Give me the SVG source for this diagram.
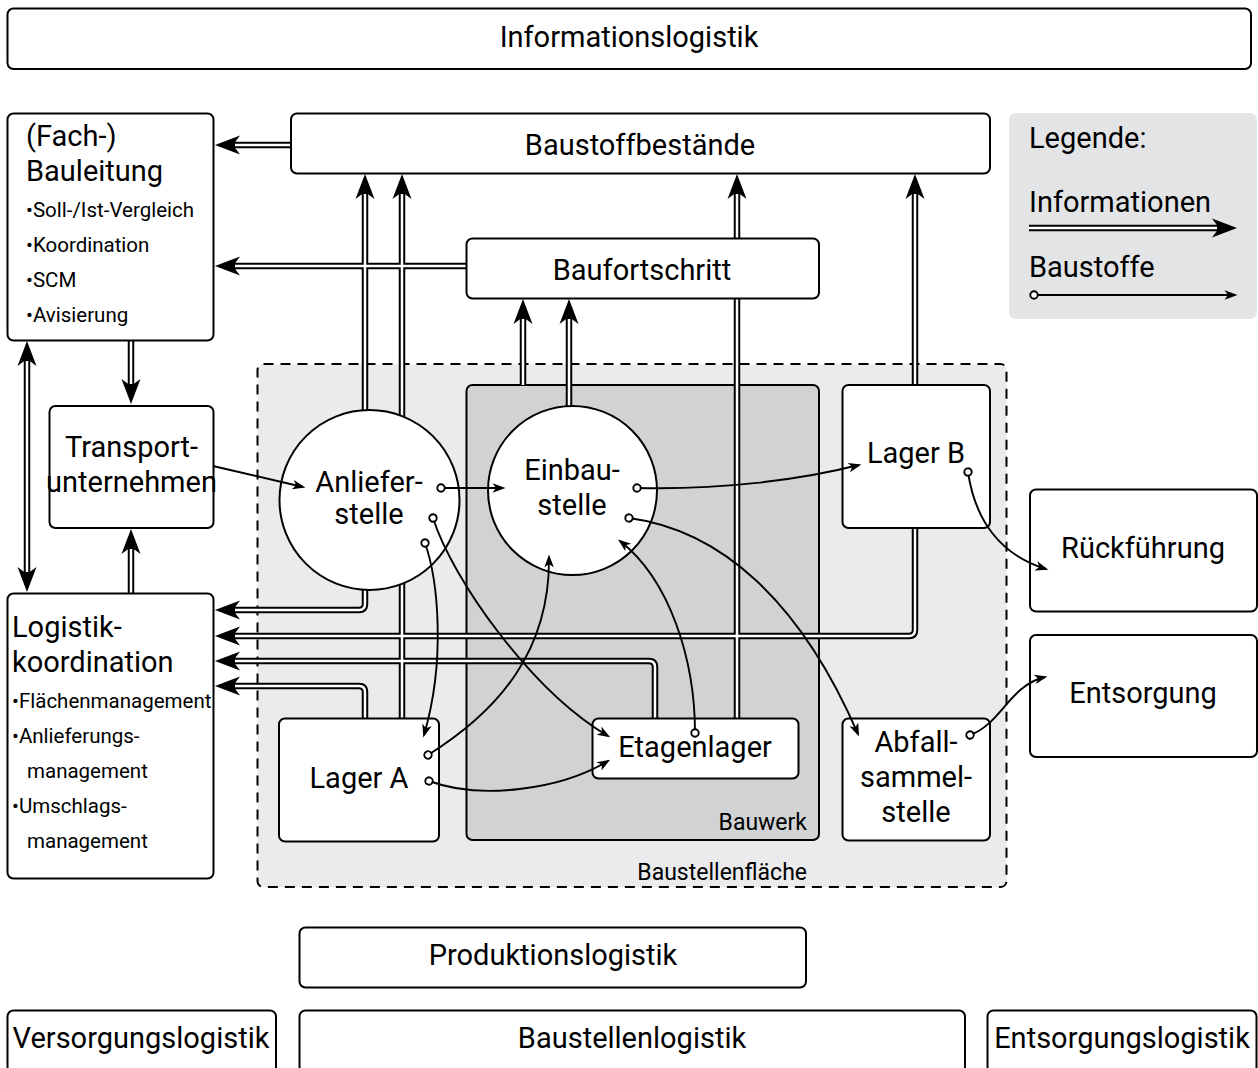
<svg xmlns="http://www.w3.org/2000/svg" width="1258" height="1068" viewBox="0 0 1258 1068">
  <defs>
    <style>
      .box{fill:#fff;stroke:#000;stroke-width:2}
      .t{font-family:Roboto,"Liberation Sans",sans-serif;font-size:29px;fill:#000}
      .c{text-anchor:middle}
      .e{text-anchor:end}
      .s{font-size:20.5px}
      .m{font-size:23px}
      .ib{fill:none;stroke:#000;stroke-width:6.5;stroke-linejoin:round}
      .iw{fill:none;stroke:#fff;stroke-width:2.5;stroke-linejoin:round}
      .ia{marker-end:url(#ihead)}
      .mf{fill:none;stroke:#000;stroke-width:1.9;marker-start:url(#dot);marker-end:url(#mhead)}
    </style>
    <!-- arrowhead for the double information lines -->
    <marker id="ihead" markerUnits="userSpaceOnUse" markerWidth="40" markerHeight="40" refX="7" refY="0" orient="auto-start-reverse" overflow="visible">
      <path d="M0,-9.5 L25,0 L0,9.5 L7,0 Z" fill="#000"/>
    </marker>
    <!-- small arrowhead and start dot for material flows -->
    <marker id="mhead" markerUnits="userSpaceOnUse" markerWidth="20" markerHeight="20" refX="10.5" refY="0" orient="auto" overflow="visible">
      <path d="M0,-4.8 L13,0 L0,4.8 L3.5,0 Z" fill="#000"/>
    </marker>
    <marker id="dot" markerUnits="userSpaceOnUse" markerWidth="10" markerHeight="10" refX="0" refY="0" orient="auto" overflow="visible">
      <circle r="3.7" fill="#fff" stroke="#000" stroke-width="1.9"/>
    </marker>
  </defs>

  <rect width="1258" height="1068" fill="#fff"/>

  <!-- zones -->
  <g id="baustellenflaeche">
    <rect x="257.5" y="364" width="749" height="523" rx="6" fill="#ebebed" stroke="#000" stroke-width="2" stroke-dasharray="10 7"/>
    <text class="t m e" x="807" y="880">Baustellenfläche</text>
  </g>
  <g id="bauwerk">
    <rect x="466.5" y="385" width="352.5" height="455" rx="6" fill="#d1d2d4" stroke="#000" stroke-width="2"/>
    <text class="t m e" x="807" y="830">Bauwerk</text>
  </g>

  <!-- information flows (double lines) -->
  <g id="info-flows">
    <g class="ib">
      <path d="M365,590 V604 Q365,610 359,610 H233" class="ia"/>
      <path d="M915,528 V630 Q915,636 909,636 H233" class="ia"/>
      <path d="M655,718 V667 Q655,661 649,661 H233" class="ia"/>
      <path d="M365,718 V692 Q365,686 359,686 H233" class="ia"/>
      <path d="M291,145 H233" class="ia"/>
      <path d="M466,266 H233" class="ia"/>
      <path d="M131,340 V386" class="ia"/>
      <path d="M131,593 V547" class="ia"/>
      <path d="M27,359 V574" class="ia" marker-start="url(#ihead)"/>
      <path d="M365,412 V192" class="ia"/>
      <path d="M402,718 V192" class="ia"/>
      <path d="M523,385 V317" class="ia"/>
      <path d="M569,407 V317" class="ia"/>
      <path d="M737,718 V192" class="ia"/>
      <path d="M915,385 V192" class="ia"/>
    </g>
    <g class="iw">
      <path d="M365,590 V604 Q365,610 359,610 H235"/>
      <path d="M915,528 V630 Q915,636 909,636 H235"/>
      <path d="M655,718 V667 Q655,661 649,661 H235"/>
      <path d="M365,718 V692 Q365,686 359,686 H235"/>
      <path d="M291,145 H235"/>
      <path d="M466,266 H235"/>
      <path d="M131,340 V384"/>
      <path d="M131,593 V549"/>
      <path d="M27,361 V572"/>
      <path d="M365,412 V194"/>
      <path d="M402,718 V194"/>
      <path d="M523,385 V319"/>
      <path d="M569,407 V319"/>
      <path d="M737,718 V194"/>
      <path d="M915,385 V194"/>
    </g>
  </g>

  <!-- nodes -->
  <g id="informationslogistik">
    <rect class="box" x="7.5" y="8.5" width="1243.5" height="60.5" rx="6"/>
    <text class="t c" x="629" y="47">Informationslogistik</text>
  </g>
  <g id="bauleitung">
    <rect class="box" x="7.5" y="113.5" width="206" height="227" rx="6"/>
    <text class="t" x="26" y="146">(Fach-)</text>
    <text class="t" x="26" y="181">Bauleitung</text>
    <text class="t s" x="26" y="217">•Soll-/Ist-Vergleich</text>
    <text class="t s" x="26" y="252">•Koordination</text>
    <text class="t s" x="26" y="287">•SCM</text>
    <text class="t s" x="26" y="322">•Avisierung</text>
  </g>
  <g id="baustoffbestaende">
    <rect class="box" x="291" y="113.5" width="699" height="60" rx="6"/>
    <text class="t c" x="640" y="155">Baustoffbestände</text>
  </g>
  <g id="baufortschritt">
    <rect class="box" x="466.5" y="238.5" width="352.5" height="60" rx="6"/>
    <text class="t c" x="642" y="280">Baufortschritt</text>
  </g>
  <g id="legende">
    <rect x="1009" y="113" width="248" height="206" rx="7" fill="#e3e4e6"/>
    <text class="t" x="1029" y="148">Legende:</text>
    <text class="t" x="1029" y="212">Informationen</text>
    <path class="ib ia" d="M1029,228 H1219"/>
    <path class="iw" d="M1029,228 H1217"/>
    <text class="t" x="1029" y="277">Baustoffe</text>
    <path class="mf" d="M1034,295 H1235"/>
  </g>
  <g id="transportunternehmen">
    <rect class="box" x="49.5" y="406" width="164" height="122" rx="6"/>
    <text class="t c" x="131.5" y="457">Transport-</text>
    <text class="t c" x="131.5" y="492">unternehmen</text>
  </g>
  <g id="logistikkoordination">
    <rect class="box" x="7.5" y="593.5" width="206" height="285" rx="6"/>
    <text class="t" x="12" y="637">Logistik-</text>
    <text class="t" x="12" y="672">koordination</text>
    <text class="t s" x="12" y="708">•Flächenmanagement</text>
    <text class="t s" x="12" y="743">•Anlieferungs-</text>
    <text class="t s" x="27" y="778">management</text>
    <text class="t s" x="12" y="813">•Umschlags-</text>
    <text class="t s" x="27" y="848">management</text>
  </g>
  <g id="anlieferstelle">
    <circle cx="369.5" cy="500" r="90" fill="#fff" stroke="#000" stroke-width="2"/>
    <text class="t c" x="369" y="492">Anliefer-</text>
    <text class="t c" x="369" y="524">stelle</text>
  </g>
  <g id="einbaustelle">
    <circle cx="572.5" cy="490.5" r="84.5" fill="#fff" stroke="#000" stroke-width="2"/>
    <text class="t c" x="572" y="480">Einbau-</text>
    <text class="t c" x="572" y="515">stelle</text>
  </g>
  <g id="lager-b">
    <rect class="box" x="842.5" y="385" width="147.5" height="143" rx="6"/>
    <text class="t c" x="916" y="463">Lager B</text>
  </g>
  <g id="rueckfuehrung">
    <rect class="box" x="1030" y="489.5" width="227" height="122" rx="6"/>
    <text class="t c" x="1143" y="558">Rückführung</text>
  </g>
  <g id="entsorgung">
    <rect class="box" x="1030" y="635" width="227" height="122" rx="6"/>
    <text class="t c" x="1143" y="703">Entsorgung</text>
  </g>
  <g id="lager-a">
    <rect class="box" x="279" y="718.5" width="160" height="123" rx="6"/>
    <text class="t c" x="359" y="788">Lager A</text>
  </g>
  <g id="etagenlager">
    <rect class="box" x="592.5" y="718.5" width="206" height="60" rx="6"/>
    <text class="t c" x="695" y="757">Etagenlager</text>
  </g>
  <g id="abfallsammelstelle">
    <rect class="box" x="842.5" y="718.5" width="147.5" height="122" rx="6"/>
    <text class="t c" x="916" y="752">Abfall-</text>
    <text class="t c" x="916" y="787">sammel-</text>
    <text class="t c" x="916" y="822">stelle</text>
  </g>
  <g id="produktionslogistik">
    <rect class="box" x="299.5" y="927.5" width="506.5" height="60" rx="6"/>
    <text class="t c" x="553" y="965">Produktionslogistik</text>
  </g>
  <g id="versorgungslogistik">
    <rect class="box" x="7.5" y="1010.5" width="268.5" height="62" rx="6"/>
    <text class="t c" x="141" y="1048">Versorgungslogistik</text>
  </g>
  <g id="baustellenlogistik">
    <rect class="box" x="299.5" y="1010.5" width="665.5" height="62" rx="6"/>
    <text class="t c" x="632" y="1048">Baustellenlogistik</text>
  </g>
  <g id="entsorgungslogistik">
    <rect class="box" x="987.5" y="1010.5" width="269" height="62" rx="6"/>
    <text class="t c" x="1122" y="1048">Entsorgungslogistik</text>
  </g>

  <!-- material flows (single lines with start dot) -->
  <g id="material-flows">
    <path d="M213,466 L303,487" fill="none" stroke="#000" stroke-width="1.9" marker-end="url(#mhead)"/>
    <path class="mf" d="M441,488 H503"/>
    <path class="mf" d="M637,488 C720,490 800,480 859,465"/>
    <path class="mf" d="M433,518 C452,578 530,690 608,736"/>
    <path class="mf" d="M425,543 C438,580 446,660 424,735"/>
    <path class="mf" d="M428,755 C500,710 550,650 549,557"/>
    <path class="mf" d="M429,781 C480,800 560,790 608,761"/>
    <path class="mf" d="M695,733 C695,660 670,580 620,541"/>
    <path class="mf" d="M629,518 C720,530 800,600 858,734"/>
    <path class="mf" d="M968,472 C975,520 1000,555 1046,569"/>
    <path class="mf" d="M970,735 C1000,725 1010,685 1045,677"/>
  </g>
</svg>
